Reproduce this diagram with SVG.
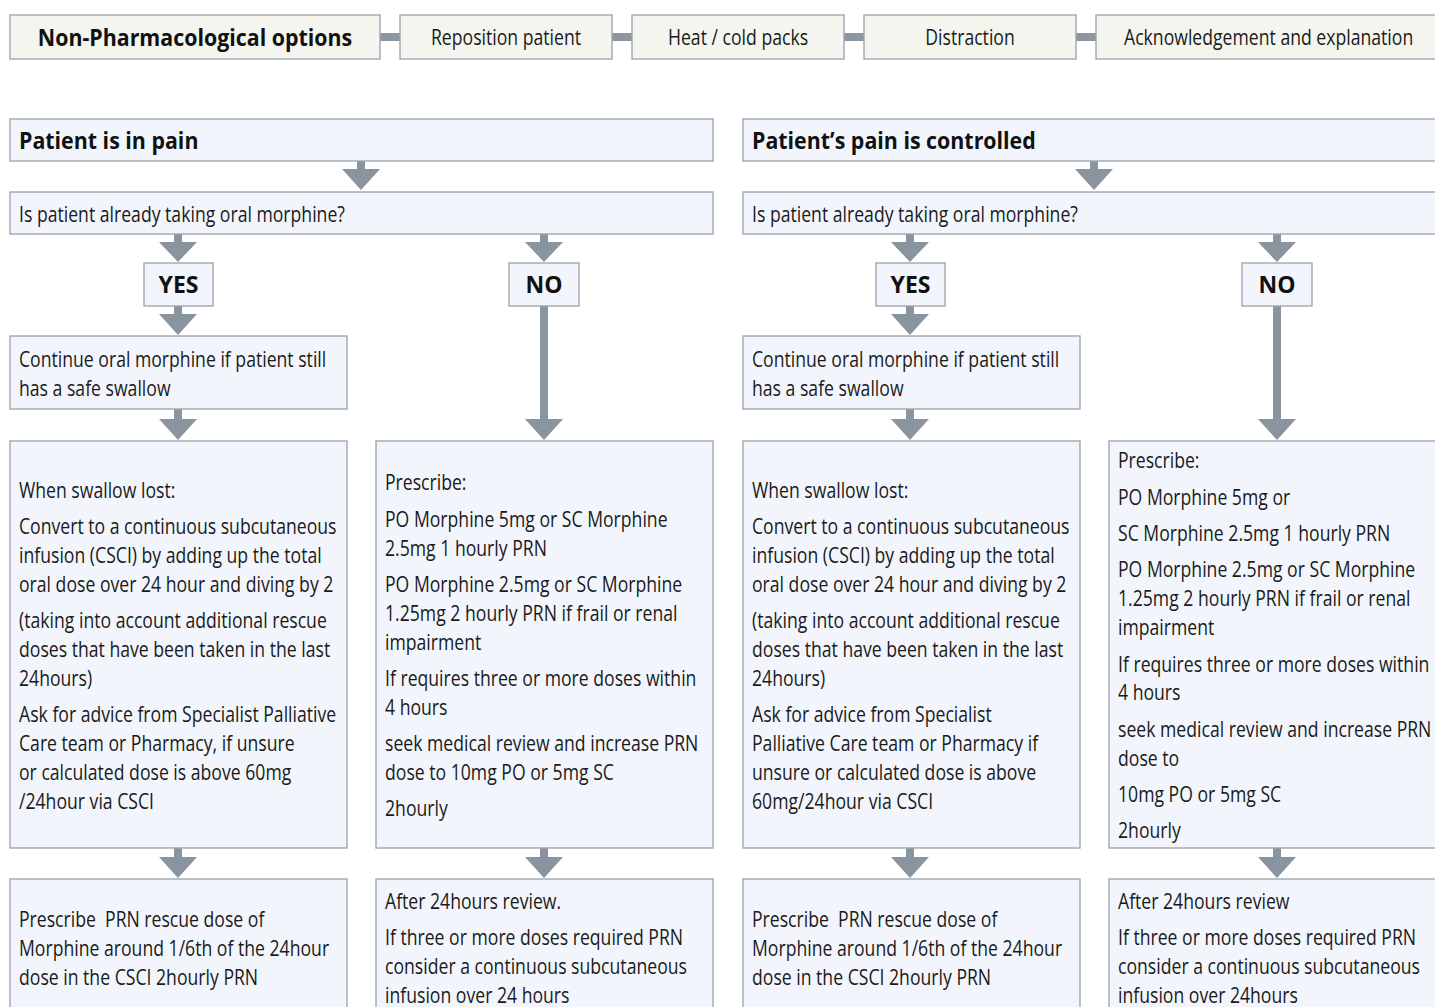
<svg xmlns="http://www.w3.org/2000/svg" width="1435" height="1007" viewBox="0 0 1435 1007">
<defs>
<style>
.bg{fill:#ffffff}
.tb{fill:#f3f5ee;stroke:#9ea7b0;stroke-width:1.4}
.bx{fill:#f2f6fc;stroke:#9ea7b0;stroke-width:1.4}
.bar{fill:#8c97a1}
.ar{fill:#8a949e}
.t{font-family:"Open Sans","Liberation Sans",sans-serif;font-size:21px;fill:#1a1a1a}
.b{font-family:"Open Sans","Liberation Sans",sans-serif;font-size:23px;font-weight:bold;fill:#111111}
.m{text-anchor:middle}
</style>
</defs>
<rect class="bg" x="0" y="0" width="1435" height="1007"/>

<g id="connectors">
<rect class="bar" x="380" y="33" width="20" height="8"/>
<rect class="bar" x="612" y="33" width="20" height="8"/>
<rect class="bar" x="844" y="33" width="20" height="8"/>
<rect class="bar" x="1076" y="33" width="20" height="8"/>
<!-- left half -->
<path class="ar" d="M357,161 h8 v8 h15 l-19,21 l-19,-21 h15 z"/>
<path class="ar" d="M174,234 h8 v8 h15 l-19,20 l-19,-20 h15 z"/>
<path class="ar" d="M540,234 h8 v8 h15 l-19,20 l-19,-20 h15 z"/>
<path class="ar" d="M174,306 h8 v8 h15 l-19,21 l-19,-21 h15 z"/>
<path class="ar" d="M174,409 h8 v10 h15 l-19,21 l-19,-21 h15 z"/>
<path class="ar" d="M540,306 h8 v113 h15 l-19,21 l-19,-21 h15 z"/>
<path class="ar" d="M174,848 h8 v9 h15 l-19,21 l-19,-21 h15 z"/>
<path class="ar" d="M540,848 h8 v9 h15 l-19,21 l-19,-21 h15 z"/>
<!-- right half -->
<path class="ar" d="M1090,161 h8 v8 h15 l-19,21 l-19,-21 h15 z"/>
<path class="ar" d="M906,234 h8 v8 h15 l-19,20 l-19,-20 h15 z"/>
<path class="ar" d="M1273,234 h8 v8 h15 l-19,20 l-19,-20 h15 z"/>
<path class="ar" d="M906,306 h8 v8 h15 l-19,21 l-19,-21 h15 z"/>
<path class="ar" d="M906,409 h8 v10 h15 l-19,21 l-19,-21 h15 z"/>
<path class="ar" d="M1273,306 h8 v113 h15 l-19,21 l-19,-21 h15 z"/>
<path class="ar" d="M906,848 h8 v9 h15 l-19,21 l-19,-21 h15 z"/>
<path class="ar" d="M1273,848 h8 v9 h15 l-19,21 l-19,-21 h15 z"/>
</g>

<g id="non-pharm">
<rect class="tb" x="10" y="15" width="370" height="44"/>
<text class="b m" transform="translate(195,46) scale(0.93,1)">Non-Pharmacological options</text>
</g>
<g id="reposition">
<rect class="tb" x="400" y="15" width="212" height="44"/>
<text class="t m" transform="translate(506,45) scale(0.84,1)">Reposition patient</text>
</g>
<g id="heat-cold">
<rect class="tb" x="632" y="15" width="212" height="44"/>
<text class="t m" transform="translate(738,45) scale(0.84,1)">Heat / cold packs</text>
</g>
<g id="distraction">
<rect class="tb" x="864" y="15" width="212" height="44"/>
<text class="t m" transform="translate(970,45) scale(0.84,1)">Distraction</text>
</g>
<g id="acknowledgement">
<rect class="tb" x="1096" y="15" width="350" height="44"/>
<text class="t" transform="translate(1124,45) scale(0.84,1)">Acknowledgement and explanation</text>
</g>

<!-- LEFT HALF -->
<g id="in-pain">
<rect class="bx" x="10" y="119" width="703" height="42"/>
<text class="b" transform="translate(19,149) scale(0.93,1)">Patient is in pain</text>
</g>
<g id="q-left">
<rect class="bx" x="10" y="192" width="703" height="42"/>
<text class="t" transform="translate(19,222) scale(0.84,1)">Is patient already taking oral morphine?</text>
</g>
<g id="yes-left">
<rect class="bx" x="144" y="263" width="69" height="43"/>
<text class="b m" transform="translate(178.5,293) scale(1,1)">YES</text>
</g>
<g id="no-left">
<rect class="bx" x="509" y="263" width="70" height="43"/>
<text class="b m" transform="translate(544,293) scale(1,1)">NO</text>
</g>
<g id="continue-left">
<rect class="bx" x="10" y="336" width="337" height="73"/>
<text class="t" transform="translate(19,0) scale(0.84,1)"><tspan x="0" y="367">Continue oral morphine if patient still</tspan><tspan x="0" y="396">has a safe swallow</tspan></text>
</g>
<g id="swallow-left">
<rect class="bx" x="10" y="441" width="337" height="407"/>
<text class="t" transform="translate(19,0) scale(0.84,1)"><tspan x="0" y="498">When swallow lost:</tspan><tspan x="0" y="534">Convert to a continuous subcutaneous</tspan><tspan x="0" y="563">infusion (CSCI) by adding up the total</tspan><tspan x="0" y="592">oral dose over 24 hour and diving by 2</tspan><tspan x="0" y="628">(taking into account additional rescue</tspan><tspan x="0" y="657">doses that have been taken in the last</tspan><tspan x="0" y="686">24hours)</tspan><tspan x="0" y="722">Ask for advice from Specialist Palliative</tspan><tspan x="0" y="751">Care team or Pharmacy, if unsure</tspan><tspan x="0" y="780">or calculated dose is above 60mg</tspan><tspan x="0" y="809">/24hour via CSCI</tspan></text>
</g>
<g id="prescribe-left">
<rect class="bx" x="376" y="441" width="337" height="407"/>
<text class="t" transform="translate(385,0) scale(0.84,1)"><tspan x="0" y="490">Prescribe:</tspan><tspan x="0" y="527">PO Morphine 5mg or SC Morphine</tspan><tspan x="0" y="556">2.5mg 1 hourly PRN</tspan><tspan x="0" y="592">PO Morphine 2.5mg or SC Morphine</tspan><tspan x="0" y="621">1.25mg 2 hourly PRN if frail or renal</tspan><tspan x="0" y="650">impairment</tspan><tspan x="0" y="686">If requires three or more doses within</tspan><tspan x="0" y="715">4 hours</tspan><tspan x="0" y="751">seek medical review and increase PRN</tspan><tspan x="0" y="780">dose to 10mg PO or 5mg SC</tspan><tspan x="0" y="816">2hourly</tspan></text>
</g>
<g id="rescue-left">
<rect class="bx" x="10" y="879" width="337" height="140"/>
<text class="t" transform="translate(19,0) scale(0.84,1)"><tspan x="0" y="927">Prescribe&#160; PRN rescue dose of</tspan><tspan x="0" y="956">Morphine around 1/6th of the 24hour</tspan><tspan x="0" y="985">dose in the CSCI 2hourly PRN</tspan></text>
</g>
<g id="review-left">
<rect class="bx" x="376" y="879" width="337" height="140"/>
<text class="t" transform="translate(385,0) scale(0.84,1)"><tspan x="0" y="909">After 24hours review.</tspan><tspan x="0" y="945">If three or more doses required PRN</tspan><tspan x="0" y="974">consider a continuous subcutaneous</tspan><tspan x="0" y="1003">infusion over 24 hours</tspan></text>
</g>

<!-- RIGHT HALF -->
<g id="controlled">
<rect class="bx" x="743" y="119" width="710" height="42"/>
<text class="b" transform="translate(752,149) scale(0.93,1)">Patient’s pain is controlled</text>
</g>
<g id="q-right">
<rect class="bx" x="743" y="192" width="710" height="42"/>
<text class="t" transform="translate(752,222) scale(0.84,1)">Is patient already taking oral morphine?</text>
</g>
<g id="yes-right">
<rect class="bx" x="876" y="263" width="69" height="43"/>
<text class="b m" transform="translate(910.5,293) scale(1,1)">YES</text>
</g>
<g id="no-right">
<rect class="bx" x="1242" y="263" width="70" height="43"/>
<text class="b m" transform="translate(1277,293) scale(1,1)">NO</text>
</g>
<g id="continue-right">
<rect class="bx" x="743" y="336" width="337" height="73"/>
<text class="t" transform="translate(752,0) scale(0.84,1)"><tspan x="0" y="367">Continue oral morphine if patient still</tspan><tspan x="0" y="396">has a safe swallow</tspan></text>
</g>
<g id="swallow-right">
<rect class="bx" x="743" y="441" width="337" height="407"/>
<text class="t" transform="translate(752,0) scale(0.84,1)"><tspan x="0" y="498">When swallow lost:</tspan><tspan x="0" y="534">Convert to a continuous subcutaneous</tspan><tspan x="0" y="563">infusion (CSCI) by adding up the total</tspan><tspan x="0" y="592">oral dose over 24 hour and diving by 2</tspan><tspan x="0" y="628">(taking into account additional rescue</tspan><tspan x="0" y="657">doses that have been taken in the last</tspan><tspan x="0" y="686">24hours)</tspan><tspan x="0" y="722">Ask for advice from Specialist</tspan><tspan x="0" y="751">Palliative Care team or Pharmacy if</tspan><tspan x="0" y="780">unsure or calculated dose is above</tspan><tspan x="0" y="809">60mg/24hour via CSCI</tspan></text>
</g>
<g id="prescribe-right">
<rect class="bx" x="1109" y="441" width="340" height="407"/>
<text class="t" transform="translate(1118,0) scale(0.84,1)"><tspan x="0" y="468">Prescribe:</tspan><tspan x="0" y="505">PO Morphine 5mg or</tspan><tspan x="0" y="541">SC Morphine 2.5mg 1 hourly PRN</tspan><tspan x="0" y="577">PO Morphine 2.5mg or SC Morphine</tspan><tspan x="0" y="606">1.25mg 2 hourly PRN if frail or renal</tspan><tspan x="0" y="635">impairment</tspan><tspan x="0" y="672">If requires three or more doses within</tspan><tspan x="0" y="700">4 hours</tspan><tspan x="0" y="737">seek medical review and increase PRN</tspan><tspan x="0" y="766">dose to</tspan><tspan x="0" y="802">10mg PO or 5mg SC</tspan><tspan x="0" y="838">2hourly</tspan></text>
</g>
<g id="rescue-right">
<rect class="bx" x="743" y="879" width="337" height="140"/>
<text class="t" transform="translate(752,0) scale(0.84,1)"><tspan x="0" y="927">Prescribe&#160; PRN rescue dose of</tspan><tspan x="0" y="956">Morphine around 1/6th of the 24hour</tspan><tspan x="0" y="985">dose in the CSCI 2hourly PRN</tspan></text>
</g>
<g id="review-right">
<rect class="bx" x="1109" y="879" width="340" height="140"/>
<text class="t" transform="translate(1118,0) scale(0.84,1)"><tspan x="0" y="909">After 24hours review</tspan><tspan x="0" y="945">If three or more doses required PRN</tspan><tspan x="0" y="974">consider a continuous subcutaneous</tspan><tspan x="0" y="1003">infusion over 24hours</tspan></text>
</g>
</svg>
